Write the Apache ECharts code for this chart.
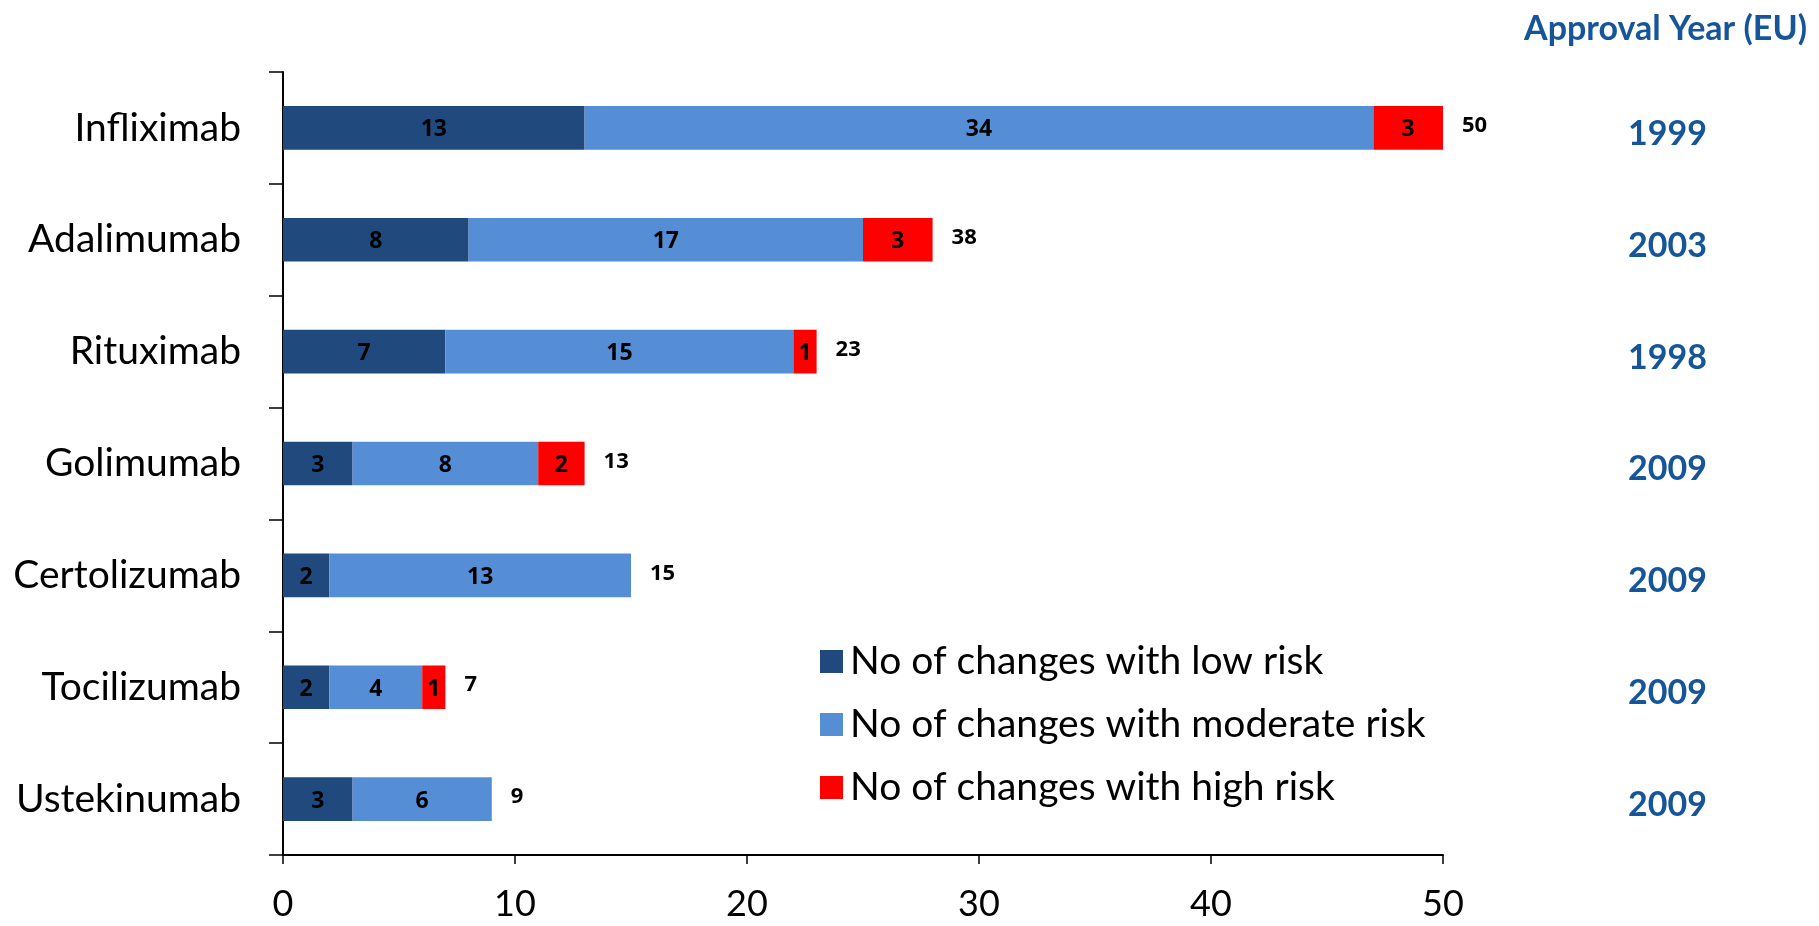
<!DOCTYPE html>
<html>
<head>
<meta charset="utf-8">
<style>
  html, body { margin: 0; padding: 0; background: #fff; }
  #chart { width: 1819px; height: 926px; }
</style>
<script src="https://cdn.jsdelivr.net/npm/echarts@6/dist/echarts.min.js"></script>
</head>
<body>
<div id="chart"></div>
<script>
// antibodies, top to bottom
var products = ['Infliximab', 'Adalimumab', 'Rituximab', 'Golimumab', 'Certolizumab', 'Tocilizumab', 'Ustekinumab'];
var approvalYears = ['1999', '2003', '1998', '2009', '2009', '2009', '2009'];
var lowRisk = [13, 8, 7, 3, 2, 2, 3];
var moderateRisk = [34, 17, 15, 8, 13, 4, 6];
var highRisk = [3, 3, 1, 2, 0, 1, 0];
var totals = [50, 38, 23, 13, 15, 7, 9];
var xTicks = [0, 10, 20, 30, 40, 50];

var seriesNames = ['No of changes with low risk', 'No of changes with moderate risk', 'No of changes with high risk'];
var colors = ['#204A7E', '#558ED5', '#FF0000'];
var font = 'Lato, "Open Sans", sans-serif';
var numFont = '"Open Sans", Lato, sans-serif';

function innerLabel() {
  return {
    show: true,
    position: 'inside',
    color: '#000',
    fontFamily: numFont,
    fontWeight: 'bold',
    fontSize: 23,
    offset: [0, 2],
    formatter: function (p) { return p.value ? p.value : ''; }
  };
}

var chart = echarts.init(document.getElementById('chart'));
var option = {
  animation: false,
  backgroundColor: '#fff',
  title: {
    text: 'Approval Year (EU)',
    right: 7,
    top: 7,
    textStyle: { color: '#17559A', fontFamily: font, fontWeight: 'bold', fontSize: 34 }
  },
  legend: {
    data: seriesNames,
    orient: 'vertical',
    left: 815,
    top: 637,
    itemWidth: 23,
    itemHeight: 23,
    itemGap: 24,
    icon: 'rect',
    textStyle: { color: '#000', fontFamily: font, fontSize: 39, padding: [0, 0, 0, 2] }
  },
  grid: { left: 283, right: 376, top: 72, bottom: 71, containLabel: false },
  xAxis: {
    type: 'value',
    min: xTicks[0],
    max: xTicks[xTicks.length - 1],
    interval: 10,
    axisLine: { show: true, lineStyle: { color: '#000', width: 2 } },
    axisTick: { show: true, length: 9, lineStyle: { color: '#000', width: 1.5 } },
    splitLine: { show: false },
    axisLabel: { color: '#000', fontFamily: font, fontSize: 36, margin: 31 }
  },
  yAxis: [{
    type: 'category',
    data: products,
    inverse: true,
    axisLine: { show: true, lineStyle: { color: '#000', width: 2 } },
    axisTick: { show: true, length: 14, lineStyle: { color: '#000', width: 1.5 } },
    axisLabel: { color: '#000', fontFamily: font, fontSize: 39, margin: 42 }
  }, {
    type: 'category',
    data: approvalYears,
    inverse: true,
    position: 'right',
    axisLine: { show: false },
    axisTick: { show: false },
    axisLabel: {
      color: '#17559A', fontFamily: font, fontWeight: 'bold', fontSize: 34,
      margin: 185, align: 'left', verticalAlign: 'top', lineHeight: 12
    }
  }],
  series: [{
    name: seriesNames[0], type: 'bar', stack: 'risk', barWidth: '39%',
    itemStyle: { color: colors[0] }, label: innerLabel(), data: lowRisk
  }, {
    name: seriesNames[1], type: 'bar', stack: 'risk', barWidth: '39%',
    itemStyle: { color: colors[1] }, label: innerLabel(), data: moderateRisk
  }, {
    name: seriesNames[2], type: 'bar', stack: 'risk', barWidth: '39%',
    itemStyle: { color: colors[2] }, label: innerLabel(), data: highRisk
  }, {
    // total at the end of each bar
    name: 'Total', type: 'bar', stack: 'risk', barWidth: '39%',
    itemStyle: { color: 'transparent' },
    label: {
      show: true, position: 'right', distance: 19, color: '#000',
      fontFamily: numFont, fontWeight: 'bold', fontSize: 22, offset: [0, -2],
      formatter: function (p) { return totals[p.dataIndex]; }
    },
    data: totals.map(function () { return 0; })
  }]
};
chart.setOption(option);
</script>
</body>
</html>
